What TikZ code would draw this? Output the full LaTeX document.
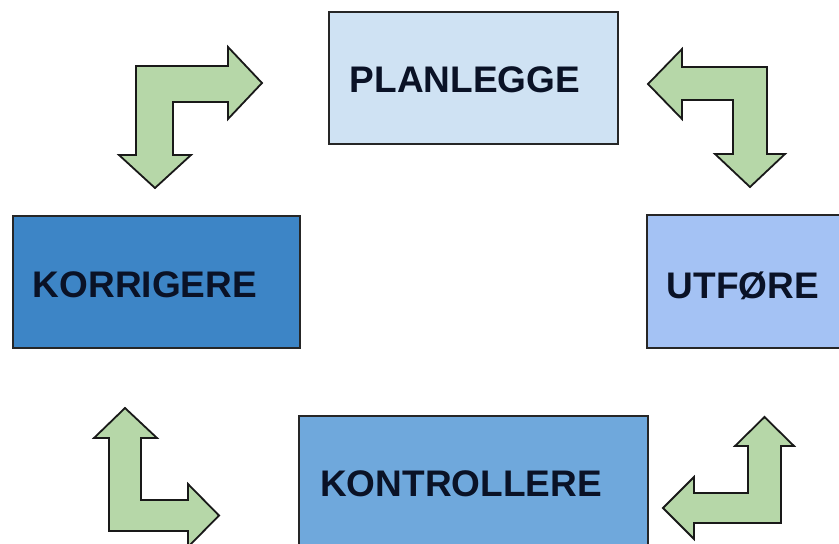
\documentclass[tikz,border=0pt]{standalone}
\usepackage{fontspec}
\setmainfont{Liberation Sans}
\definecolor{planc}{RGB}{207,226,243}
\definecolor{korc}{RGB}{61,133,198}
\definecolor{utfc}{RGB}{164,194,244}
\definecolor{konc}{RGB}{111,168,220}
\definecolor{arrc}{RGB}{182,215,168}
\definecolor{txtc}{RGB}{10,18,38}
\begin{document}
\begin{tikzpicture}[x=1pt,y=-1pt,
  stagebox/.style={draw=black!85,line width=1.7pt},
  stagetext/.style={anchor=base,inner sep=0pt,text=txtc,font=\fontsize{37}{44}\selectfont\bfseries},
  bentarrow/.style={draw=black!90,fill=arrc,line width=1.8pt,line join=miter}]
\useasboundingbox (0,0) rectangle (839,544);
\clip (0,0) rectangle (839,544);
\fill[white] (0,0) rectangle (839,544);
% boxes
\draw[stagebox,fill=planc] (329,12) rectangle (618,144);
\draw[stagebox,fill=korc] (13,216) rectangle (300,348);
\draw[stagebox,fill=utfc] (647,215) rectangle (860,348);
\draw[stagebox,fill=konc] (299,416) rectangle (648,570);
% texts
\node[stagetext] (plan) at (465,92) {PLANLEGGE};
\node[stagetext] (kor) at (145,297) {KORRIGERE};
\node[stagetext] (utf) at (743,298) {UTFØRE};
\node[stagetext] (kon) at (461,496) {KONTROLLERE};
% arrows
\draw[bentarrow] (136,66) -- (228,66) -- (228,47) -- (262,83) -- (228,119) -- (228,102) -- (173,102) -- (173,155) -- (191,155) -- (155,188) -- (119,155) -- (136,155) -- cycle;
\draw[bentarrow] (767,67) -- (682,67) -- (682,49) -- (648,84) -- (682,119) -- (682,100) -- (733,100) -- (733,154) -- (715,154) -- (750,187) -- (785,154) -- (767,154) -- cycle;
\draw[bentarrow] (109,531) -- (109,438) -- (94,438) -- (125,408) -- (157,438) -- (141,438) -- (141,500) -- (188,500) -- (188,484) -- (219,515.5) -- (188,547) -- (188,531) -- cycle;
\draw[bentarrow] (781,523) -- (694,523) -- (694,539) -- (663,508) -- (694,477) -- (694,493) -- (748,493) -- (748,446) -- (735,446) -- (764.5,417) -- (794,446) -- (781,446) -- cycle;
\end{tikzpicture}
\end{document}
